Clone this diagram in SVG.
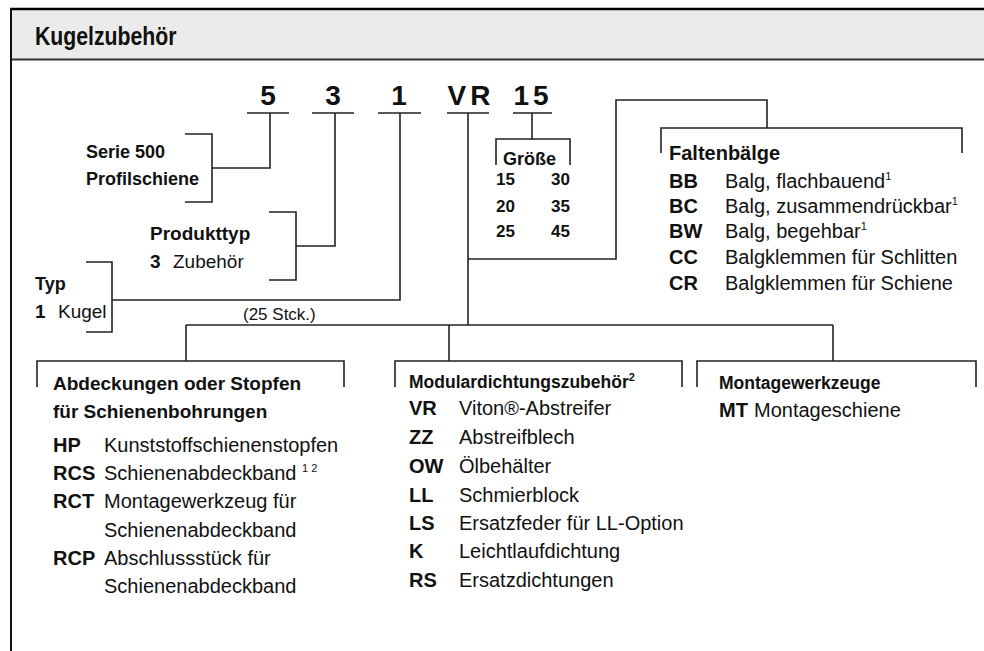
<svg xmlns="http://www.w3.org/2000/svg" width="984" height="651" viewBox="0 0 984 651">
<style>
text{font-family:"Liberation Sans",Arial,sans-serif;fill:#111}
.b{font-weight:bold}
.big{font-weight:bold;font-size:28px}
.t{font-weight:bold;font-size:18px}
.r{font-size:20px}
.c{font-weight:bold;font-size:20px}
.sup{font-size:11px}
.ln{fill:none;stroke:#222;stroke-width:1.6}
</style>
<rect x="0" y="0" width="984" height="651" fill="#fff"/>
<g id="frame">
<rect x="11" y="9" width="973" height="50" fill="#ebebeb"/>
<line x1="10" y1="9" x2="984" y2="9" stroke="#000" stroke-width="2.5"/>
<line x1="11" y1="59.5" x2="984" y2="59.5" stroke="#333" stroke-width="2"/>
<line x1="11" y1="8" x2="11" y2="651" stroke="#111" stroke-width="2"/>
<text class="b" font-size="25" transform="translate(35 45) scale(0.85 1)">Kugelzubehör</text>
</g>
<g id="code">
<text x="268" y="105" class="big" text-anchor="middle">5</text>
<text x="333" y="105" class="big" text-anchor="middle">3</text>
<text x="399" y="105" class="big" text-anchor="middle">1</text>
<text x="471" y="105" class="big" text-anchor="middle" letter-spacing="4">VR</text>
<text x="533" y="105" class="big" text-anchor="middle" letter-spacing="4">15</text>
</g>
<g id="connectors" class="ln">
<path d="M247 113H289M312 113H354M378 113H421M447 113H489M513 113H552"/>
<path d="M270 113V168H212"/>
<path d="M185 134H212V202H185"/>
<path d="M335 113V246H296"/>
<path d="M269 212H296V280H269"/>
<path d="M400 113V300H112"/>
<path d="M86 262H112V332H86"/>
<path d="M532 113V139"/>
<path d="M496 165V139H570V165"/>
<path d="M468 113V325"/>
<path d="M468 259H616V100H767V128"/>
<path d="M661 153V128H962V153"/>
<path d="M186 325H833"/>
<path d="M186 325V361M449 325V361M833 325V361"/>
<path d="M37 387V361H344V387"/>
<path d="M395 387V361H682V387"/>
<path d="M697 387V361H976V387"/>
</g>
<g id="serie">
<text x="86" y="158" class="t">Serie 500</text>
<text x="86" y="185" class="t">Profilschiene</text>
</g>
<g id="produkttyp">
<text x="150" y="240" class="b" font-size="19">Produkttyp</text>
<text x="150" y="268" class="b" font-size="19">3</text>
<text x="173" y="268" font-size="19">Zubehör</text>
</g>
<g id="typ">
<text x="35" y="290" class="t">Typ</text>
<text x="35" y="318" class="b" font-size="19">1</text>
<text x="58" y="318" font-size="19">Kugel</text>
<text x="243" y="320" font-size="17">(25 Stck.)</text>
</g>
<g id="groesse">
<text x="503" y="165" class="t">Größe</text>
<text x="496" y="185" class="b" font-size="17">15</text>
<text x="570" y="185" class="b" font-size="17" text-anchor="end">30</text>
<text x="496" y="212" class="b" font-size="17">20</text>
<text x="570" y="212" class="b" font-size="17" text-anchor="end">35</text>
<text x="496" y="237" class="b" font-size="17">25</text>
<text x="570" y="237" class="b" font-size="17" text-anchor="end">45</text>
</g>
<g id="faltenbaelge">
<text x="669" y="160" class="b" font-size="20">Faltenbälge</text>
<text x="669" y="188" class="c">BB</text><text x="725" y="188" class="r">Balg, flachbauend<tspan class="sup" dy="-8">1</tspan></text>
<text x="669" y="213" class="c">BC</text><text x="725" y="213" class="r">Balg, zusammendrückbar<tspan class="sup" dy="-8">1</tspan></text>
<text x="669" y="238" class="c">BW</text><text x="725" y="238" class="r">Balg, begehbar<tspan class="sup" dy="-8">1</tspan></text>
<text x="669" y="264" class="c">CC</text><text x="725" y="264" class="r">Balgklemmen für Schlitten</text>
<text x="669" y="290" class="c">CR</text><text x="725" y="290" class="r">Balgklemmen für Schiene</text>
</g>
<g id="abdeckungen">
<text x="53" y="390" class="b" font-size="19">Abdeckungen oder Stopfen</text>
<text x="53" y="418" class="b" font-size="19">für Schienenbohrungen</text>
<text x="53" y="452" class="c">HP</text><text x="104" y="452" class="r">Kunststoffschienenstopfen</text>
<text x="53" y="480" class="c">RCS</text><text x="104" y="480" class="r">Schienenabdeckband <tspan class="sup" dy="-8">1 2</tspan></text>
<text x="53" y="508" class="c">RCT</text><text x="104" y="508" class="r">Montagewerkzeug für</text>
<text x="104" y="537" class="r">Schienenabdeckband</text>
<text x="53" y="565" class="c">RCP</text><text x="104" y="565" class="r">Abschlussstück für</text>
<text x="104" y="593" class="r">Schienenabdeckband</text>
</g>
<g id="modular">
<text x="409" y="388" class="b" font-size="17.5">Modulardichtungszubehör<tspan class="sup" dy="-7">2</tspan></text>
<text x="409" y="415" class="c">VR</text><text x="459" y="415" class="r">Viton®-Abstreifer</text>
<text x="409" y="444" class="c">ZZ</text><text x="459" y="444" class="r">Abstreifblech</text>
<text x="409" y="473" class="c">OW</text><text x="459" y="473" class="r">Ölbehälter</text>
<text x="409" y="502" class="c">LL</text><text x="459" y="502" class="r">Schmierblock</text>
<text x="409" y="530" class="c">LS</text><text x="459" y="530" class="r">Ersatzfeder für LL-Option</text>
<text x="409" y="558" class="c">K</text><text x="459" y="558" class="r">Leichtlaufdichtung</text>
<text x="409" y="587" class="c">RS</text><text x="459" y="587" class="r">Ersatzdichtungen</text>
</g>
<g id="montage">
<text x="719" y="389" class="b" font-size="17.5">Montagewerkzeuge</text>
<text x="719" y="417" class="c">MT</text><text x="754" y="417" class="r">Montageschiene</text>
</g>
</svg>
